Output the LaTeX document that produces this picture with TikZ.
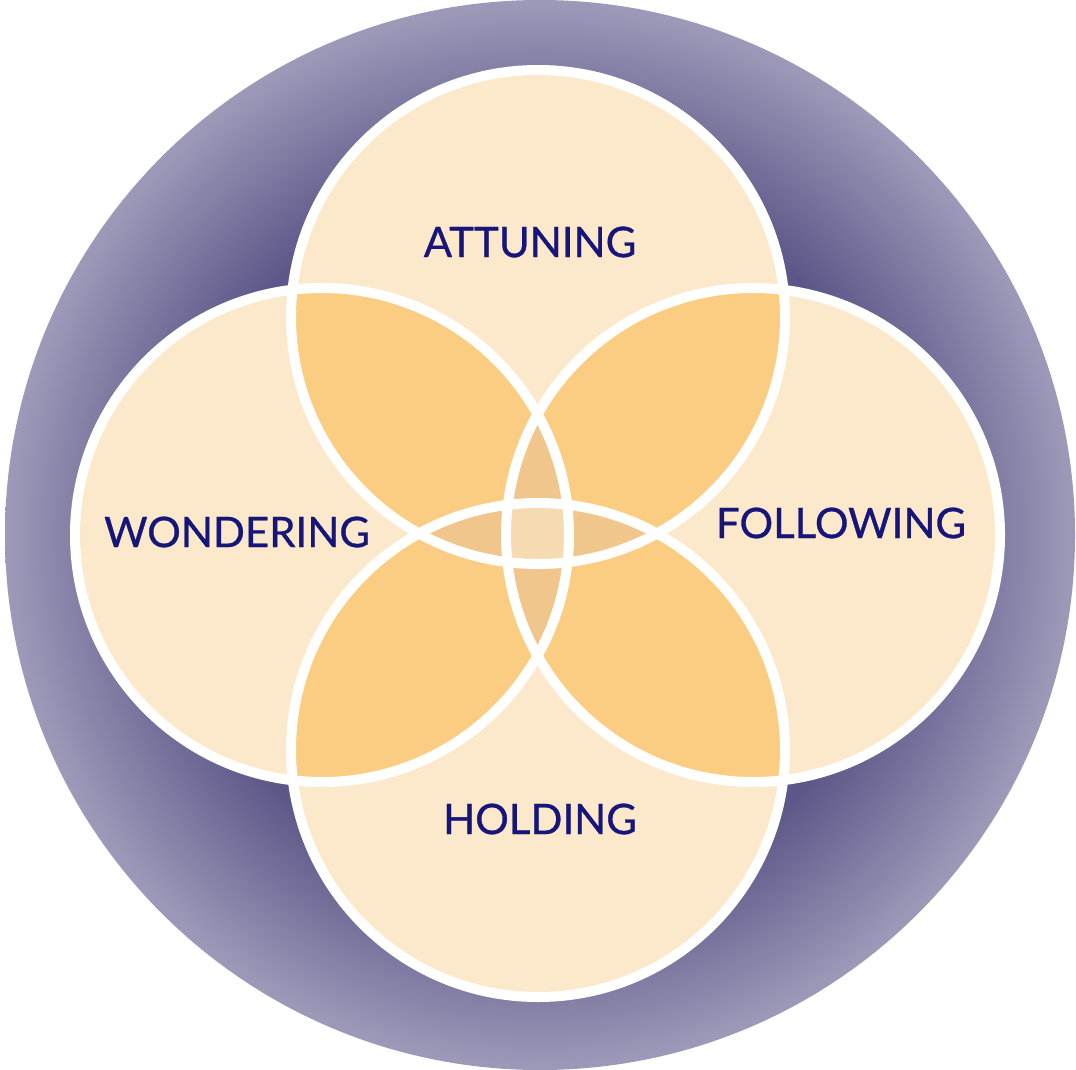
\documentclass[tikz,border=0pt]{standalone}
\usepackage{fontspec}
\setmainfont{Lato}
\newfontfamily\labelfont[FakeBold=0.7]{Lato}
\usepackage{xcolor}
\usepackage{tikz}
\definecolor{ringlight}{HTML}{9D9AB9}
\definecolor{ringdark}{HTML}{5C5788}
\definecolor{petalfill}{HTML}{FCE8CA}
\definecolor{pairfill}{HTML}{FACD82}
\definecolor{triplefill}{HTML}{F0C68C}
\definecolor{quadfill}{HTML}{F5DAB2}
\definecolor{labelblue}{HTML}{15157A}
\pgfdeclareradialshading{ringshade}{\pgfpoint{0bp}{0bp}}{color(0bp)=(ringdark); color(17bp)=(ringdark); color(25bp)=(ringlight); color(50bp)=(ringlight)}
\newcommand{\petalr}{247pt}
\tikzset{
  ring/.style={shading=ringshade},
  petal/.style={fill=petalfill},
  rim/.style={draw=white, line width=10pt},
  word/.style={font=\labelfont\fontsize{42}{48}\selectfont, text=labelblue, inner sep=0pt}
}

\begin{document}
\begin{tikzpicture}[x=1pt,y=-1pt]
  \useasboundingbox (0,0) rectangle (1076,1070);

  \coordinate (ctr) at (540,535);
  \coordinate (att) at (538,317);
  \coordinate (won) at (322,535);
  \coordinate (fol) at (753,535);
  \coordinate (hol) at (538,750);

  \shade[ring] (ctr) circle[radius=535pt];

  \foreach \c in {att,won,fol,hol} {\fill[petal] (\c) circle[radius=\petalr];}

  % overlaps
  \foreach \a/\b in {att/won,att/fol,hol/won,hol/fol} {
    \begin{scope}
      \clip (\a) circle[radius=\petalr];
      \fill[pairfill] (\b) circle[radius=\petalr];
    \end{scope}
  }
  \foreach \a/\b in {att/hol,won/fol} {
    \begin{scope}
      \clip (\a) circle[radius=\petalr];
      \fill[triplefill] (\b) circle[radius=\petalr];
    \end{scope}
  }
  \begin{scope}
    \clip (att) circle[radius=\petalr];
    \clip (hol) circle[radius=\petalr];
    \clip (won) circle[radius=\petalr];
    \fill[quadfill] (fol) circle[radius=\petalr];
  \end{scope}

  \foreach \c in {att,won,fol,hol} {\draw[rim] (\c) circle[radius=\petalr];}

  \node[word] (attlbl) at (530,242) {ATTUNING};
  \node[word] (wonlbl) at (237,532) {WONDERING};
  \node[word] (follbl) at (841,523) {FOLLOWING};
  \node[word] (hollbl) at (540,819) {HOLDING};
\end{tikzpicture}
\end{document}
